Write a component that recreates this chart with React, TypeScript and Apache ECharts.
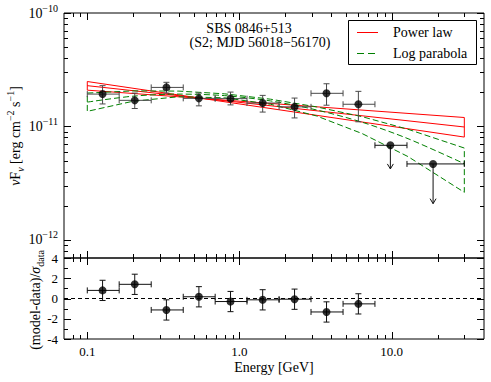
import React, { useEffect, useRef } from 'react';
import * as echarts from 'echarts';

// ---- data ----
const energy = [0.126, 0.205, 0.331, 0.541, 0.873, 1.42, 2.3, 3.73, 6.04];
const eLow = [0.1, 0.162, 0.263, 0.427, 0.692, 1.12, 1.82, 2.95, 4.79];
const eHigh = [0.162, 0.263, 0.427, 0.692, 1.12, 1.82, 2.95, 4.79, 7.76];
const flux = [1.93e-11, 1.7e-11, 2.21e-11, 1.77e-11, 1.76e-11, 1.61e-11, 1.49e-11, 1.96e-11, 1.57e-11];
const fluxLow = [1.58e-11, 1.44e-11, 1.97e-11, 1.52e-11, 1.55e-11, 1.34e-11, 1.19e-11, 1.54e-11, 1.1e-11];
const fluxHigh = [2.29e-11, 1.97e-11, 2.45e-11, 1.97e-11, 2.01e-11, 1.88e-11, 1.78e-11, 2.38e-11, 2.04e-11];

const ulEnergy = [9.8, 18.7];
const ulLow = [7.76, 12.6];
const ulHigh = [12.6, 30];
const ulFlux = [6.83e-12, 4.68e-12];
const ulArrowEnd = [4.23e-12, 2.09e-12];

const residual = [0.8, 1.4, -1.13, 0.17, -0.3, -0.13, -0.07, -1.33, -0.53];
const residualErr = [1, 1, 1, 1, 1, 1, 1, 1, 1];

const plEnergy = [0.1, 30];
const plBest = [2.29e-11, 9.9e-12];
const plSteep = [2.49e-11, 8.07e-12];
const plFlat = [2.09e-11, 1.2e-11];

const lpEnergy = [0.1, 0.2, 0.4, 0.8, 1.6, 3.2, 6.4, 12.8, 30];
const lpUpper = [1.97e-11, 2.06e-11, 2.05e-11, 1.94e-11, 1.74e-11, 1.49e-11, 1.22e-11, 9.45e-12, 6.46e-12];
const lpBest = [1.64e-11, 1.85e-11, 1.93e-11, 1.87e-11, 1.68e-11, 1.4e-11, 1.09e-11, 7.81e-12, 4.7e-12];
const lpLower = [1.36e-11, 1.67e-11, 1.83e-11, 1.79e-11, 1.57e-11, 1.24e-11, 8.66e-12, 5.43e-12, 2.63e-12];

const xMajorTicks = [0.1, 1, 10];
const xMinorTicks = [0.08, 0.09, 0.2, 0.3, 0.4, 0.5, 0.6, 0.7, 0.8, 0.9, 2, 3, 4, 5, 6, 7, 8, 9, 20, 30];
const yMajorTicks = [1e-12, 1e-11, 1e-10];
const yMinorTicks = [
  8e-13, 9e-13, 2e-12, 3e-12, 4e-12, 5e-12, 6e-12, 7e-12, 8e-12, 9e-12,
  2e-11, 3e-11, 4e-11, 5e-11, 6e-11, 7e-11, 8e-11, 9e-11,
];
const rMajorTicks = [-4, -2, 0, 2, 4];
const rMinorTicks = [-3, -1, 1, 3];

const FONT = '"Liberation Serif", "DejaVu Serif", serif';

function xTickSeries(grid: number, yRef: number) {
  const data = [
    ...xMajorTicks.map((v) => [v, yRef, 1]),
    ...xMinorTicks.map((v) => [v, yRef, 0]),
  ];
  return {
    type: 'custom', xAxisIndex: grid, yAxisIndex: grid, silent: true, z: 20, clip: false,
    data,
    renderItem: (params: any, api: any) => {
      const cs = params.coordSys;
      const px = Math.round(api.coord([api.value(0), api.value(1)])[0]) + 0.5;
      const len = api.value(2) ? 7 : 4;
      const st = { stroke: '#000', lineWidth: 1 };
      return {
        type: 'group',
        children: [
          { type: 'line', shape: { x1: px, y1: cs.y + cs.height, x2: px, y2: cs.y + cs.height - len }, style: st },
          { type: 'line', shape: { x1: px, y1: cs.y, x2: px, y2: cs.y + len }, style: st },
        ],
      };
    },
  };
}

function yTickSeries(grid: number, xRef: number, major: number[], minor: number[]) {
  const data = [...major.map((v) => [xRef, v, 1]), ...minor.map((v) => [xRef, v, 0])];
  return {
    type: 'custom', xAxisIndex: grid, yAxisIndex: grid, silent: true, z: 20, clip: false,
    data,
    renderItem: (params: any, api: any) => {
      const cs = params.coordSys;
      const py = Math.round(api.coord([api.value(0), api.value(1)])[1]) + 0.5;
      const len = api.value(2) ? 7 : 4;
      const st = { stroke: '#000', lineWidth: 1 };
      return {
        type: 'group',
        children: [
          { type: 'line', shape: { x1: cs.x, y1: py, x2: cs.x + len, y2: py }, style: st },
          { type: 'line', shape: { x1: cs.x + cs.width, y1: py, x2: cs.x + cs.width - len, y2: py }, style: st },
        ],
      };
    },
  };
}

function errorSeries(grid: number, data: number[][], color: string) {
  return {
    type: 'custom', xAxisIndex: grid, yAxisIndex: grid, silent: true, z: 5,
    data,
    encode: { x: 0, y: 1 },
    renderItem: (params: any, api: any) => {
      const c = api.coord([api.value(0), api.value(1)]);
      const xl = api.coord([api.value(2), api.value(1)])[0];
      const xh = api.coord([api.value(3), api.value(1)])[0];
      const yl = api.coord([api.value(0), api.value(4)])[1];
      const yh = api.coord([api.value(0), api.value(5)])[1];
      const st = { stroke: color, lineWidth: 1 };
      const cap = 3;
      return {
        type: 'group',
        children: [
          { type: 'line', shape: { x1: xl, y1: c[1], x2: xh, y2: c[1] }, style: st },
          { type: 'line', shape: { x1: xl, y1: c[1] - cap, x2: xl, y2: c[1] + cap }, style: st },
          { type: 'line', shape: { x1: xh, y1: c[1] - cap, x2: xh, y2: c[1] + cap }, style: st },
          { type: 'line', shape: { x1: c[0], y1: yl, x2: c[0], y2: yh }, style: st },
          { type: 'line', shape: { x1: c[0] - cap, y1: yl, x2: c[0] + cap, y2: yl }, style: st },
          { type: 'line', shape: { x1: c[0] - cap, y1: yh, x2: c[0] + cap, y2: yh }, style: st },
        ],
      };
    },
  };
}

function ulSeries(data: number[][]) {
  return {
    type: 'custom', xAxisIndex: 0, yAxisIndex: 0, silent: true, z: 5,
    data,
    encode: { x: 0, y: 1 },
    renderItem: (params: any, api: any) => {
      const c = api.coord([api.value(0), api.value(1)]);
      const xl = api.coord([api.value(2), api.value(1)])[0];
      const xh = api.coord([api.value(3), api.value(1)])[0];
      const ye = api.coord([api.value(0), api.value(4)])[1];
      const st = { stroke: '#111', lineWidth: 1, fill: 'none' };
      const cap = 3;
      return {
        type: 'group',
        children: [
          { type: 'line', shape: { x1: xl, y1: c[1], x2: xh, y2: c[1] }, style: st },
          { type: 'line', shape: { x1: xl, y1: c[1] - cap, x2: xl, y2: c[1] + cap }, style: st },
          { type: 'line', shape: { x1: xh, y1: c[1] - cap, x2: xh, y2: c[1] + cap }, style: st },
          { type: 'line', shape: { x1: c[0], y1: c[1], x2: c[0], y2: ye }, style: st },
          { type: 'polyline', shape: { points: [[c[0] - 3, ye - 5], [c[0], ye], [c[0] + 3, ye - 5]] }, style: st },
        ],
      };
    },
  };
}

const xFmt = (v: number) => {
  const l = Math.log10(v);
  return Math.abs(l - Math.round(l)) < 1e-6 ? v.toFixed(1) : '';
};
const yFmt = (v: number) => {
  const l = Math.log10(v);
  if (Math.abs(l - Math.round(l)) > 1e-6) return '';
  return '{b|10}{sup|\u2212' + Math.abs(Math.round(l)) + '}';
};

export default function App() {
  const ref = useRef<HTMLDivElement>(null);
  useEffect(() => {
    if (!ref.current) return;
    const chart = echarts.init(ref.current, undefined, { renderer: 'svg' });

    const plEnvelope = [
      [plEnergy[0], plSteep[0]], [plEnergy[1], plSteep[1]],
      [plEnergy[1], plFlat[1]], [plEnergy[0], plFlat[0]], [plEnergy[0], plSteep[0]],
    ];
    const plMid = plEnergy.map((e, i) => [e, plBest[i]]);
    const n = lpEnergy.length;
    const lpEnvelope = [
      ...lpEnergy.map((e, i) => [e, lpUpper[i]]),
      ...lpEnergy.map((e, i) => [lpEnergy[n - 1 - i], lpLower[n - 1 - i]]),
      [lpEnergy[0], lpUpper[0]],
    ];
    const lpMid = lpEnergy.map((e, i) => [e, lpBest[i]]);

    const errData = energy.map((e, i) => [e, flux[i], eLow[i], eHigh[i], fluxLow[i], fluxHigh[i]]);
    const ulData = ulEnergy.map((e, i) => [e, ulFlux[i], ulLow[i], ulHigh[i], ulArrowEnd[i]]);
    const resErr = energy.map((e, i) => [e, residual[i], eLow[i], eHigh[i], residual[i] - residualErr[i], residual[i] + residualErr[i]]);

    const axisBase = {
      axisLine: { show: false }, axisTick: { show: false }, splitLine: { show: false },
    };
    const lineBase = { type: 'line', xAxisIndex: 0, yAxisIndex: 0, symbol: 'none', silent: true, z: 3 };

    const option: any = {
      animation: false,
      backgroundColor: '#ffffff',
      grid: [
        { left: 64, top: 13, width: 420, height: 245, show: true, borderColor: '#000', borderWidth: 1 },
        { left: 64, top: 258, width: 420, height: 81, show: true, borderColor: '#000', borderWidth: 1 },
      ],
      xAxis: [
        { type: 'log', gridIndex: 0, min: 0.0703, max: 40.4, ...axisBase, axisLabel: { show: false } },
        {
          type: 'log', gridIndex: 1, min: 0.0703, max: 40.4, ...axisBase,
          axisLabel: { show: true, formatter: xFmt, fontSize: 13, fontFamily: FONT, color: '#000', margin: 6 },
        },
      ],
      yAxis: [
        {
          type: 'log', gridIndex: 0, min: 6.94e-13, max: 1e-10, ...axisBase,
          axisLabel: {
            show: true, formatter: yFmt, margin: 6, showMaxLabel: true,
            rich: {
              b: { fontSize: 14, fontFamily: FONT, color: '#000', lineHeight: 20, verticalAlign: 'middle' },
              sup: { fontSize: 10, fontFamily: FONT, color: '#000', lineHeight: 10, verticalAlign: 'top' },
            },
          },
        },
        {
          type: 'value', gridIndex: 1, min: -4, max: 4, interval: 2, ...axisBase,
          axisLabel: { show: true, fontSize: 13, fontFamily: FONT, color: '#000', margin: 6, showMaxLabel: true, showMinLabel: true },
        },
      ],
      series: [
        { ...lineBase, name: 'Power law', data: plEnvelope, lineStyle: { color: '#ff0000', width: 1 } },
        { ...lineBase, name: 'Power law best', data: plMid, lineStyle: { color: '#ff0000', width: 1 } },
        { ...lineBase, name: 'Log parabola', data: lpEnvelope, smooth: false, lineStyle: { color: '#008000', width: 1, type: [6, 3] } },
        { ...lineBase, name: 'Log parabola best', data: lpMid, smooth: 0.3, lineStyle: { color: '#008000', width: 1, type: [6, 3] } },
        errorSeries(0, errData, '#4a4a4a'),
        ulSeries(ulData),
        {
          type: 'scatter', xAxisIndex: 0, yAxisIndex: 0, silent: true, z: 8,
          symbol: 'circle', symbolSize: 8, itemStyle: { color: '#000' },
          data: [...energy.map((e, i) => [e, flux[i]]), ...ulEnergy.map((e, i) => [e, ulFlux[i]])],
        },
        errorSeries(1, resErr, '#111'),
        {
          type: 'scatter', xAxisIndex: 1, yAxisIndex: 1, silent: true, z: 8,
          symbol: 'circle', symbolSize: 8, itemStyle: { color: '#000' },
          data: energy.map((e, i) => [e, residual[i]]),
          markLine: {
            silent: true, symbol: ['none', 'none'], label: { show: false },
            lineStyle: { color: '#000', width: 1, type: [4, 3] },
            data: [{ yAxis: 0 }],
          },
        },
        xTickSeries(0, 1e-11),
        yTickSeries(0, 1, yMajorTicks, yMinorTicks),
        xTickSeries(1, 0),
        yTickSeries(1, 1, rMajorTicks, rMinorTicks),
      ],
      graphic: [
        { type: 'text', x: 249, y: 28, z: 100, style: { text: 'SBS 0846+513', fontSize: 14, fontFamily: FONT, fill: '#000', align: 'center', verticalAlign: 'middle' } },
        { type: 'text', x: 260, y: 42, z: 100, style: { text: '(S2; MJD 56018\u221256170)', fontSize: 14, fontFamily: FONT, fill: '#000', align: 'center', verticalAlign: 'middle' } },
        { type: 'rect', z: 100, shape: { x: 348.5, y: 20.5, width: 128, height: 44 }, style: { fill: '#fff', stroke: '#000', lineWidth: 1 } },
        { type: 'line', z: 101, shape: { x1: 357, y1: 32.5, x2: 378, y2: 32.5 }, style: { stroke: '#ff0000', lineWidth: 1 } },
        { type: 'text', x: 393, y: 32, z: 101, style: { text: 'Power law', fontSize: 14, fontFamily: FONT, fill: '#000', align: 'left', verticalAlign: 'middle' } },
        { type: 'line', z: 101, shape: { x1: 357, y1: 53.5, x2: 378, y2: 53.5 }, style: { stroke: '#008000', lineWidth: 1, lineDash: [7, 4] } },
        { type: 'text', x: 393, y: 53, z: 101, style: { text: 'Log parabola', fontSize: 14, fontFamily: FONT, fill: '#000', align: 'left', verticalAlign: 'middle' } },
        { type: 'text', x: 274, y: 367, z: 100, style: { text: 'Energy [GeV]', fontSize: 14, fontFamily: FONT, fill: '#000', align: 'center', verticalAlign: 'middle' } },
        {
          type: 'text', x: 15, y: 136, rotation: Math.PI / 2, z: 100,
          style: {
            text: '{i|\u03bd}{b|F}{sub|\u03bd}{b| [erg cm}{sup|\u22122}{b| s}{sup|\u22121}{b|]}',
            align: 'center', verticalAlign: 'middle',
            rich: {
              i: { fontSize: 14, fontFamily: FONT, fontStyle: 'italic', fill: '#000', lineHeight: 20 },
              b: { fontSize: 14, fontFamily: FONT, fill: '#000', lineHeight: 20 },
              sub: { fontSize: 10, fontFamily: FONT, fontStyle: 'italic', fill: '#000', lineHeight: 12, verticalAlign: 'bottom' },
              sup: { fontSize: 10, fontFamily: FONT, fill: '#000', lineHeight: 10, verticalAlign: 'top' },
            },
          },
        },
        {
          type: 'text', x: 35, y: 300, rotation: Math.PI / 2, z: 100,
          style: {
            text: '{b|(model-data)/}{i|\u03c3}{sub|data}',
            align: 'center', verticalAlign: 'middle',
            rich: {
              i: { fontSize: 14, fontFamily: FONT, fontStyle: 'italic', fill: '#000', lineHeight: 20 },
              b: { fontSize: 14, fontFamily: FONT, fill: '#000', lineHeight: 20 },
              sub: { fontSize: 10, fontFamily: FONT, fill: '#000', lineHeight: 12, verticalAlign: 'bottom' },
            },
          },
        },
      ],
    };
    chart.setOption(option);
    return () => chart.dispose();
  }, []);
  return <div ref={ref} style={{ position: 'fixed', left: 0, top: 0, width: 491, height: 382 }} />;
}
